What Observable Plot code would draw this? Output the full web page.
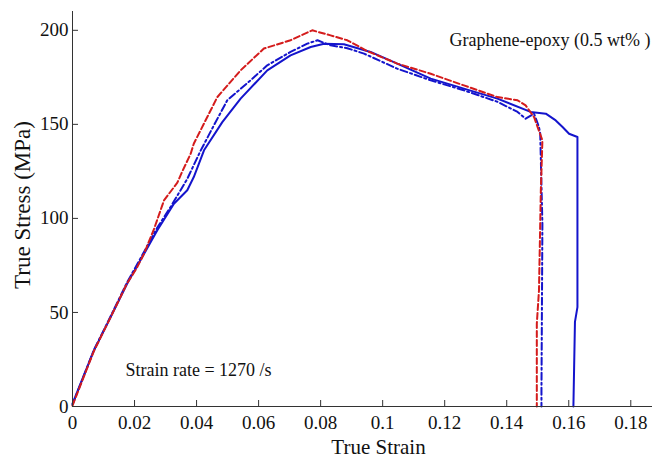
<!DOCTYPE html>
<html>
<head>
<meta charset="utf-8">
<script src="https://cdn.jsdelivr.net/npm/d3@7"></script>
<script src="https://cdn.jsdelivr.net/npm/@observablehq/plot@0.6"></script>
<style>
  html, body { margin: 0; padding: 0; background: #fff; }
</style>
</head>
<body>
<div id="chart"></div>
<script>
// Red dashed series
const redStrain = [0, 0.0069, 0.0123, 0.0176, 0.0205, 0.023, 0.0262, 0.0295, 0.0338, 0.0354, 0.0381, 0.0391, 0.0467, 0.0542, 0.0617, 0.0703, 0.0773, 0.0832, 0.0886, 0.095, 0.1047, 0.1155, 0.1262, 0.137, 0.1435, 0.1461, 0.1488, 0.1515, 0.151, 0.1504, 0.1497, 0.1497];
const redStress = [0.5, 29.5, 47.5, 65.5, 73, 81, 94, 109.6, 119, 125, 134.4, 139.7, 164.5, 178.7, 190.3, 194.7, 200, 197.3, 194.7, 189, 182.3, 176.9, 170.7, 164.5, 162.8, 160.1, 153.9, 141.5, 114.9, 61.7, 44, 0];

// Blue dash-dot series
const dashDotStrain = [0, 0.0069, 0.0123, 0.0176, 0.022, 0.0273, 0.0316, 0.037, 0.0413, 0.0456, 0.0499, 0.0574, 0.0628, 0.0703, 0.0757, 0.079, 0.0832, 0.0886, 0.094, 0.1047, 0.1155, 0.1262, 0.137, 0.1435, 0.1461, 0.1488, 0.1504, 0.1508, 0.1515, 0.1512, 0.1512];
const dashDotStress = [1, 30, 48, 66, 79, 95, 106, 121, 136, 149.5, 162.8, 173.4, 181.4, 188.5, 192.9, 194.7, 192, 190.5, 187.6, 179.6, 173.4, 168.1, 162, 156.6, 153, 155.7, 148.6, 145, 97, 8, 0];

// Blue solid series
const solidStrain = [0, 0.0069, 0.0123, 0.0176, 0.0219, 0.0273, 0.0327, 0.037, 0.0391, 0.0424, 0.0483, 0.0542, 0.0628, 0.0703, 0.0768, 0.0811, 0.0875, 0.0961, 0.1047, 0.1155, 0.1262, 0.137, 0.1477, 0.1526, 0.1558, 0.158, 0.1601, 0.1628, 0.1628, 0.162, 0.1615];
const solidStress = [1.5, 29.8, 47.5, 65.2, 77.7, 93.6, 107.8, 115, 122, 136.2, 151.2, 163.7, 178.7, 186.7, 191.1, 192.9, 192.6, 188.5, 182.3, 174.3, 169, 163.7, 156.6, 155.7, 152.1, 148.6, 145, 143.3, 52.8, 45, 0];

// Axis ticks and labels
const xTicks = [0, 0.02, 0.04, 0.06, 0.08, 0.1, 0.12, 0.14, 0.16, 0.18];
const xTickLabels = ["0", "0.02", "0.04", "0.06", "0.08", "0.1", "0.12", "0.14", "0.16", "0.18"];
const yTicks = [0, 50, 100, 150, 200];
const yTickLabels = ["0", "50", "100", "150", "200"];

const xTitle = "True Strain";
const yTitle = "True Stress (MPa)";
const materialNote = "Graphene-epoxy (0.5 wt% )";
const rateNote = "Strain rate = 1270 /s";

const toRows = (xs, ys) => xs.map((x, i) => ({strain: x, stress: ys[i]}));
const redRows = toRows(redStrain, redStress);
const dashDotRows = toRows(dashDotStrain, dashDotStress);
const solidRows = toRows(solidStrain, solidStress);

const W = 654, H = 460;
const mL = 72, mR = 2, mT = 11, mB = 54;
const plotW = W - mL - mR, plotH = H - mT - mB;
const serif = "'Liberation Serif', 'Times New Roman', serif";

const chart = Plot.plot({
  width: W,
  height: H,
  marginLeft: mL,
  marginRight: mR,
  marginTop: mT,
  marginBottom: mB,
  style: {fontFamily: serif, fontSize: "19px", color: "#111", background: "#fff"},
  x: {
    domain: [0, 0.187],
    ticks: xTicks,
    tickFormat: d => xTickLabels[xTicks.indexOf(d)],
    tickSize: 0,
    tickPadding: 9,
    label: null
  },
  y: {
    domain: [0, 210],
    ticks: yTicks,
    tickFormat: d => yTickLabels[yTicks.indexOf(d)],
    tickSize: 0,
    tickPadding: 4,
    label: null
  },
  marks: [
    Plot.line(solidRows, {x: "strain", y: "stress", stroke: "#1414cc", strokeWidth: 2}),
    Plot.line(dashDotRows, {x: "strain", y: "stress", stroke: "#1414cc", strokeWidth: 2, strokeDasharray: "7,3,2,3"}),
    Plot.line(redRows, {x: "strain", y: "stress", stroke: "#d41c1c", strokeWidth: 2, strokeDasharray: "6,3"}),
    Plot.tickX(xTicks, {x: d => d, stroke: "#333", strokeWidth: 1, insetTop: plotH - 6}),
    Plot.tickY(yTicks, {y: d => d, stroke: "#333", strokeWidth: 1, insetRight: plotW - 6}),
    Plot.ruleY([0], {stroke: "#333", strokeWidth: 1}),
    Plot.ruleX([0], {stroke: "#333", strokeWidth: 1}),
    Plot.text([xTitle], {text: d => d, frameAnchor: "bottom", textAnchor: "middle", lineAnchor: "middle", dx: 16, dy: 41, fontSize: 21, fill: "#111"}),
    Plot.text([yTitle], {text: d => d, frameAnchor: "left", textAnchor: "middle", lineAnchor: "middle", rotate: -90, dx: -50, dy: -4, fontSize: 23, fill: "#111"}),
    Plot.text([materialNote], {text: d => d, frameAnchor: "top-right", textAnchor: "end", lineAnchor: "middle", dx: -2, dy: 29, fontSize: 18, fill: "#111"}),
    Plot.text([rateNote], {text: d => d, frameAnchor: "bottom-left", textAnchor: "start", lineAnchor: "middle", dx: 53, dy: -36, fontSize: 18, fill: "#111"})
  ]
});
document.getElementById("chart").appendChild(chart);
</script>
</body>
</html>
